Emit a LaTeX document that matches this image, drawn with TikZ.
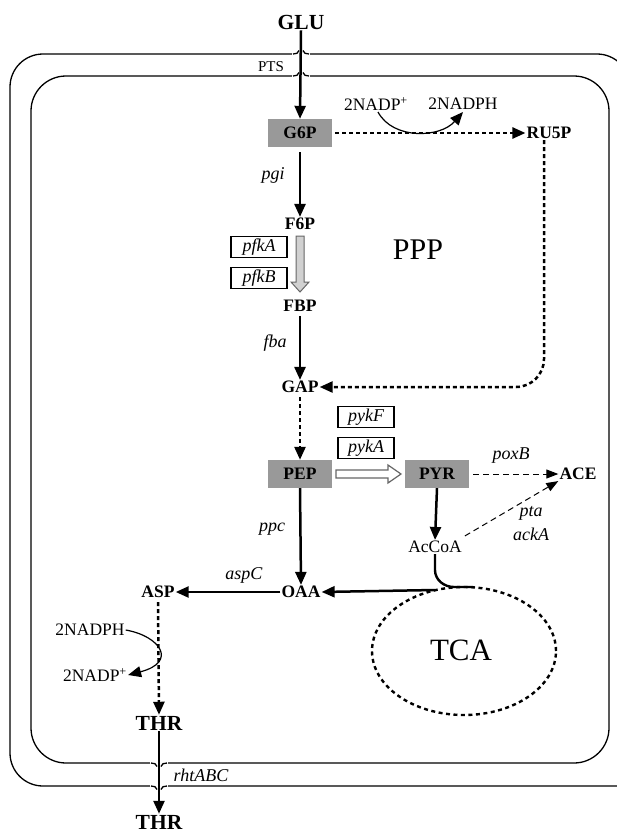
\documentclass[tikz,border=0pt]{standalone}
\usepackage{fontspec}
\setmainfont{Liberation Serif}
\usetikzlibrary{arrows.meta,shapes.geometric}
\tikzset{
  met/.style={font=\fontsize{17.5}{19}\selectfont\bfseries, inner sep=1pt},
  bigmet/.style={font=\fontsize{21.5}{23}\selectfont\bfseries, inner sep=1pt},
  plain/.style={font=\fontsize{17.5}{19}\selectfont, inner sep=1pt},
  gene/.style={font=\fontsize{18}{20}\selectfont\itshape, inner sep=1pt},
  gbox/.style={met, fill=black!40, minimum width=64pt, minimum height=28pt},
  ebox/.style={gene, draw=black, line width=1.6pt, minimum width=56pt, minimum height=21pt, inner sep=0pt},
  tip/.style={-{Triangle[length=13pt,width=11pt]}},
  sarr/.style={tip, line width=2.5pt},
  darr/.style={tip, line width=2.5pt, dash pattern=on 4pt off 3pt},
  tarr/.style={-{Triangle[length=12pt,width=9pt]}, line width=1pt, dash pattern=on 6pt off 4pt},
  memb/.style={line width=1.3pt},
}
\begin{document}
\begin{tikzpicture}[x=1pt,y=-1pt]
\useasboundingbox (0,0) rectangle (617,833);
\clip (0,0) rectangle (617,833);
% membranes
\draw[memb, rounded corners=33pt] (640,786) -- (10,786) -- (10,54) -- (630,54) -- (630,200);
\draw[memb, rounded corners=35pt] (31,76) rectangle (609,763);
\foreach \yy in {54,76}{
  \fill[white] (292,\yy-2) rectangle (310,\yy+2);
  \draw[memb] (293,\yy) to[out=0,in=-90] (299,\yy-3.5);
  \draw[memb] (309,\yy) to[out=180,in=-90] (303,\yy-3.5);
}
\foreach \yy in {763,786}{
  \fill[white] (150,\yy-2) rectangle (168,\yy+2);
  \draw[memb] (151,\yy) to[out=0,in=90] (157,\yy+3.5);
  \draw[memb] (167,\yy) to[out=180,in=90] (161,\yy+3.5);
}
% nodes
\node[bigmet] (glu) at (301,22) {GLU};
\node[font=\fontsize{15}{17}\selectfont, inner sep=1pt] (pts) at (271,67) {PTS};
\node[gbox] (g6p) at (300,133) {G6P};
\node[plain] (nadp1) at (376,104) {2NADP\textsuperscript{+}};
\node[plain] (nadph1) at (463,104) {2NADPH};
\node[met] (ru5p) at (549,133) {RU5P};
\node[gene] (pgi) at (273,175) {pgi};
\node[met] (f6p) at (300,224) {F6P};
\node[ebox] (pfka) at (259,247) {pfkA};
\node[ebox] (pfkb) at (259,278) {pfkB};
\node[font=\fontsize{30}{32}\selectfont, inner sep=1pt] (ppp) at (418,250) {PPP};
\node[met] (fbp) at (300,306) {FBP};
\node[gene] (fba) at (275,343) {fba};
\node[met] (gap) at (300,387) {GAP};
\node[ebox] (pykf) at (366,417) {pykF};
\node[ebox] (pyka) at (366,448) {pykA};
\node[gbox] (pep) at (300,474) {PEP};
\node[gbox] (pyr) at (437,474) {PYR};
\node[gene] (poxb) at (511,456) {poxB};
\node[met] (ace) at (578,474) {ACE};
\node[gene] (pta) at (531,513) {pta};
\node[gene] (acka) at (531,534) {ackA};
\node[plain] (accoa) at (435,547) {AcCoA};
\node[gene] (ppc) at (272,529) {ppc};
\node[met] (oaa) at (301,592) {OAA};
\node[gene] (aspc) at (244,575) {aspC};
\node[met] (asp) at (158,592) {ASP};
\node[plain] (nadph2) at (90,630) {2NADPH};
\node[plain] (nadp2) at (95,675) {2NADP\textsuperscript{+}};
\node[draw, line width=2.4pt, dash pattern=on 4pt off 3.5pt, ellipse, minimum width=184pt, minimum height=128pt, inner sep=0pt] (tca) at (464,651) {};
\node[font=\fontsize{31}{33}\selectfont, inner sep=1pt] (tcal) at (461,650) {TCA};
\node[bigmet] (thr1) at (159,723) {THR};
\node[gene] (rht) at (201,775) {rhtABC};
\node[bigmet] (thr2) at (159,822) {THR};
\coordinate (tcatop) at (435,590);
% connectors
\draw[sarr] (glu.south) -- (g6p.north);
\draw[darr] (g6p.east) ++(3,0) -- (ru5p.west);
\draw[tip, line width=1.2pt] (378,112) .. controls (393,140) and (440,138) .. (463,112);
\draw[sarr] (g6p.south) ++(0,5) -- (f6p.north);
\draw[darr, rounded corners=28pt] (ru5p.south) ++(-5,0) -- (544,387) -- (gap.east);
\draw[sarr] (fbp.south) ++(0,3) -- (gap.north);
\draw[darr] (gap.south) ++(0,3) -- (pep.north);
\draw[sarr] (pep.south) -- (oaa.north);
\draw[sarr] (pyr.south) -- (accoa.north);
\draw[tarr] (pyr.east) ++(4,0) -- (ace.west);
\draw[tarr] (accoa.north east) ++(2,-4) -- (ace.south west);
\draw[sarr] (tcatop) -- (oaa.east);
\draw[sarr] (oaa.west) -- (asp.east);
\draw[line width=2.4pt] (accoa.south) -- (435,570) to[out=-90,in=180] (454,587) -- (473,587);
\draw[darr] (asp.south) ++(0,3) -- (thr1.north);
\draw[tip, line width=1.2pt] (nadph2.east) .. controls (160,636) and (178,662) .. (nadp2.east);
\draw[sarr] (thr1.south) -- (thr2.north);
% hollow arrows
\draw[draw=black!60, fill=black!18, line width=1pt]
  (296,236) -- (304,236) -- (304,282) -- (309,282) -- (300,292) -- (291,282) -- (296,282) -- cycle;
\draw[draw=black!60, fill=white, line width=1.2pt]
  (336,470) -- (388,470) -- (388,465) -- (401,474) -- (388,483) -- (388,478) -- (336,478) -- cycle;
\end{tikzpicture}
\end{document}
